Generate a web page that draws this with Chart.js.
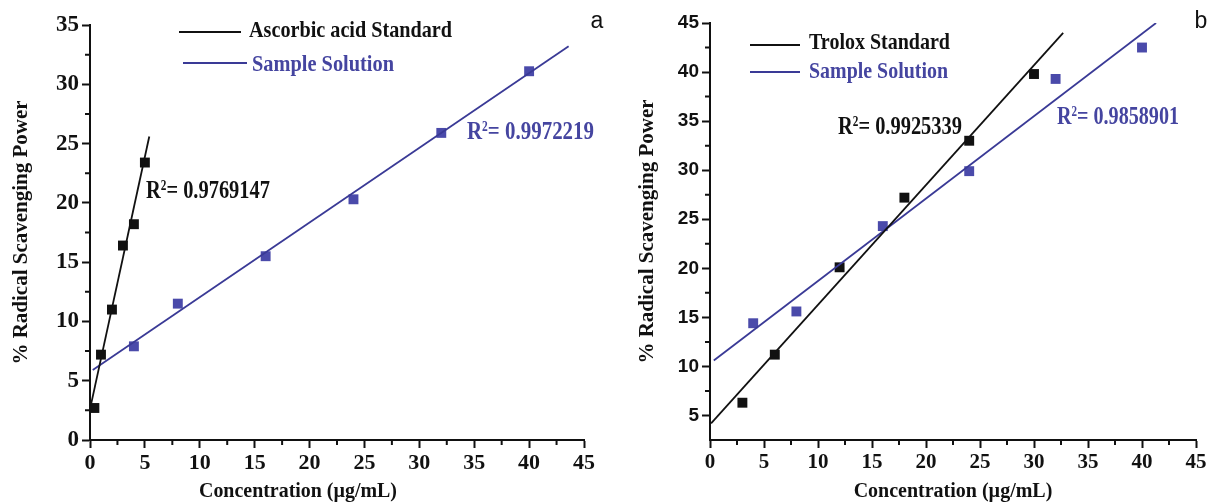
<!DOCTYPE html>
<html>
<head>
<meta charset="utf-8">
<script src="https://cdn.jsdelivr.net/npm/chart.js@4.4.1/dist/chart.umd.min.js"></script>
<style>
  html, body { margin: 0; padding: 0; background: #fff; }
  #wrap { position: relative; width: 1213px; height: 504px; overflow: hidden; }
  #boxA { position: absolute; left: 0; top: 0; width: 620px; height: 504px; }
  #boxB { position: absolute; left: 620px; top: 0; width: 593px; height: 504px; }
</style>
</head>
<body>
<div id="wrap">
  <div id="boxA"><canvas id="chartA" width="620" height="504"></canvas></div>
  <div id="boxB"><canvas id="chartB" width="593" height="504"></canvas></div>
</div>
<script>
/********************************
 *  data
 * ******************************/
// panel a - ascorbic acid
var concA_std = [0.4, 1, 2, 3, 4, 5];
var rspA_std  = [2.7, 7.2, 11.0, 16.4, 18.2, 23.4];
var concA_smp = [4, 8, 16, 24, 32, 40];
var rspA_smp  = [7.9, 11.5, 15.5, 20.3, 25.9, 31.1];
var fitA_std  = [[0.07, 2.9], [5.4, 25.6]];     // drawn fit line ends
var fitA_smp  = [[0.25, 5.9], [43.6, 33.2]];
var r2A_std = '0.9769147';
var r2A_smp = '0.9972219';

// panel b - trolox
var concB_std = [3, 6, 12, 18, 24, 30];
var rspB_std  = [6.3, 11.2, 20.1, 27.2, 33.0, 39.8];
var concB_smp = [4, 8, 16, 24, 32, 40];
var rspB_smp  = [14.4, 15.6, 24.3, 29.9, 39.3, 42.5];
var fitB_std  = [[0.1, 4.2], [32.7, 44.0]];
var fitB_smp  = [[0.35, 10.6], [41.3, 45.0]];
var r2B_std = '0.9925339';
var r2B_smp = '0.9858901';

// ticks
var xTicks  = [0, 5, 10, 15, 20, 25, 30, 35, 40, 45];
var xMinor  = [2.5, 7.5, 12.5, 17.5, 22.5, 27.5, 32.5, 37.5, 42.5];
var yTicksA = [0, 5, 10, 15, 20, 25, 30, 35];
var yMinorA = [2.5, 7.5, 12.5, 17.5, 22.5, 27.5, 32.5];
var yTicksB = [5, 10, 15, 20, 25, 30, 35, 40, 45];
var yMinorB = [7.5, 12.5, 17.5, 22.5, 27.5, 32.5, 37.5, 42.5];

var xTitle = 'Concentration (µg/mL)';
var yTitle = '% Radical Scavenging Power';

/********************************
 *  styles
 * ******************************/
var INK = '#111111';
var BLUE_LINE = '#3a3a96';
var BLUE_PT = '#4a4aaa';
var BLUE_TXT = '#4545a0';
var SERIF = '"Liberation Serif", "Times New Roman", serif';
var SANS = '"Liberation Sans", Arial, sans-serif';

Chart.defaults.font.family = SERIF;

function pts(xs, ys) {
    return xs.map(function (x, i) { return { x: x, y: ys[i] }; });
}
function pointSet(label, xs, ys, color) {
    return {
        label: label, data: pts(xs, ys), showLine: false,
        pointStyle: 'rect', pointRadius: 7, pointHoverRadius: 7,
        backgroundColor: color, borderColor: color, borderWidth: 0
    };
}
function fitSet(label, ends, color) {
    return {
        label: label,
        data: ends.map(function (p) { return { x: p[0], y: p[1] }; }),
        showLine: true, pointRadius: 0, pointHoverRadius: 0,
        borderColor: color, borderWidth: 1.8, fill: false
    };
}

// text helper: squeezes the text to the width seen in the figure
function drawNote(ctx, t) {
    var fam = t.family || SERIF;
    var wt = t.weight || 'bold';
    var parts = t.r2
        ? [['R', 1, 0], ['2', 0.55, 0.22], ['= ' + t.text, 1, 0]]
        : [[t.text, 1, 0]];
    var total = 0;
    parts.forEach(function (p) {
        ctx.font = wt + ' ' + (t.size * p[1]) + 'px ' + fam;
        p.push(ctx.measureText(p[0]).width);
        total += p[3];
    });
    var sx = t.width ? t.width / total : 1;
    var x0 = t.align === 'center' ? t.x - total * sx / 2 : t.x;
    ctx.save();
    ctx.translate(x0, t.y);
    ctx.scale(sx, 1);
    ctx.fillStyle = t.color;
    ctx.textAlign = 'left';
    ctx.textBaseline = 'middle';
    var cx = 0;
    parts.forEach(function (p) {
        ctx.font = wt + ' ' + (t.size * p[1]) + 'px ' + fam;
        ctx.fillText(p[0], cx, -p[2] * t.size);
        cx += p[3];
    });
    ctx.restore();
}

var notesPlugin = {
    id: 'figNotes',
    afterDraw: function (chart, args, opts) {
        var ctx = chart.ctx, area = chart.chartArea;
        var xs = chart.scales.x, ys = chart.scales.y;
        ctx.save();
        // minor ticks
        ctx.strokeStyle = INK; ctx.lineWidth = 2;
        ctx.beginPath();
        (opts.minorX || []).forEach(function (v) {
            var px = xs.getPixelForValue(v);
            ctx.moveTo(px, area.bottom); ctx.lineTo(px, area.bottom + 5);
        });
        (opts.minorY || []).forEach(function (v) {
            var py = ys.getPixelForValue(v);
            ctx.moveTo(area.left, py); ctx.lineTo(area.left - 5, py);
        });
        ctx.stroke();
        // legend keys
        (opts.keys || []).forEach(function (k) {
            ctx.strokeStyle = k.color; ctx.lineWidth = 2;
            ctx.beginPath(); ctx.moveTo(k.x0, k.y); ctx.lineTo(k.x1, k.y); ctx.stroke();
        });
        (opts.texts || []).forEach(function (t) { drawNote(ctx, t); });
        ctx.restore();
    }
};

function makeScales(c) {
    return {
        x: {
            type: 'linear', min: 0, max: 45,
            afterBuildTicks: function (s) { s.ticks = xTicks.map(function (v) { return { value: v }; }); },
            afterFit: function (s) { s.height = 64; },
            grid: { drawOnChartArea: false, drawTicks: true, tickLength: 8, tickWidth: 2, tickColor: INK },
            border: { display: true, color: INK, width: 2 },
            ticks: { color: INK, font: c.xTickFont, padding: 2, autoSkip: false, maxRotation: 0 },
            title: {
                display: c.xTitleOn, text: xTitle, color: INK,
                font: { family: SERIF, size: 20, weight: 'bold' }, padding: { top: 0, bottom: 0 }
            }
        },
        y: {
            type: 'linear', min: c.yMin, max: c.yMax,
            afterBuildTicks: function (s) { s.ticks = c.yTicks.map(function (v) { return { value: v }; }); },
            afterFit: function (s) { s.width = 90; },
            grid: { drawOnChartArea: false, drawTicks: true, tickLength: 8, tickWidth: 2, tickColor: INK },
            border: { display: true, color: INK, width: 2 },
            ticks: { color: INK, font: c.yTickFont, padding: 3 },
            title: {
                display: true, text: yTitle, color: INK,
                font: { family: SERIF, size: 21, weight: 'bold' }, padding: { top: c.yTitlePad, bottom: 0 }
            }
        }
    };
}

/********************************
 *  panel a
 * ******************************/
new Chart(document.getElementById('chartA').getContext('2d'), {
    type: 'scatter',
    data: {
        datasets: [
            fitSet('Ascorbic acid Standard fit', fitA_std, INK),
            fitSet('Sample Solution fit', fitA_smp, BLUE_LINE),
            pointSet('Ascorbic acid Standard', concA_std, rspA_std, INK),
            pointSet('Sample Solution', concA_smp, rspA_smp, BLUE_PT)
        ]
    },
    plugins: [notesPlugin],
    options: {
        responsive: false, animation: false,
        layout: { padding: { left: 0, top: 25, right: 36, bottom: 0 } },
        plugins: {
            legend: { display: false },
            tooltip: { enabled: false },
            figNotes: {
                minorX: xMinor, minorY: yMinorA,
                keys: [
                    { x0: 179, x1: 241, y: 32, color: INK },
                    { x0: 183, x1: 247, y: 63, color: BLUE_LINE }
                ],
                texts: [
                    { text: 'Ascorbic acid Standard', x: 249, y: 31, width: 203, size: 24, color: INK },
                    { text: 'Sample Solution', x: 252, y: 65, width: 142, size: 24, color: BLUE_TXT },
                    { text: r2A_std, r2: true, x: 146, y: 192, width: 124, size: 25, color: INK },
                    { text: r2A_smp, r2: true, x: 467, y: 133, width: 127, size: 25, color: BLUE_TXT },
                    { text: xTitle, align: 'center', x: 298, y: 492, width: 198, size: 21, color: INK },
                    { text: 'a', align: 'center', x: 597, y: 22, size: 23, weight: 'normal', family: SANS, color: INK }
                ]
            }
        },
        scales: makeScales({
            yMin: 0, yMax: 35, yTicks: yTicksA, yTitlePad: 9, xTitleOn: false,
            xTickFont: { family: SERIF, size: 22, weight: 'bold' },
            yTickFont: { family: SERIF, size: 23, weight: 'bold' }
        })
    }
});

/********************************
 *  panel b
 * ******************************/
new Chart(document.getElementById('chartB').getContext('2d'), {
    type: 'scatter',
    data: {
        datasets: [
            fitSet('Trolox Standard fit', fitB_std, INK),
            fitSet('Sample Solution fit', fitB_smp, BLUE_LINE),
            pointSet('Trolox Standard', concB_std, rspB_std, INK),
            pointSet('Sample Solution', concB_smp, rspB_smp, BLUE_PT)
        ]
    },
    plugins: [notesPlugin],
    options: {
        responsive: false, animation: false,
        layout: { padding: { left: 0, top: 23, right: 17, bottom: 0 } },
        plugins: {
            legend: { display: false },
            tooltip: { enabled: false },
            figNotes: {
                minorX: xMinor, minorY: yMinorB,
                keys: [
                    { x0: 130, x1: 180, y: 45, color: INK },
                    { x0: 130, x1: 180, y: 72, color: BLUE_LINE }
                ],
                texts: [
                    { text: 'Trolox Standard', x: 189, y: 43, width: 141, size: 24, color: INK },
                    { text: 'Sample Solution', x: 189, y: 72, width: 139, size: 24, color: BLUE_TXT },
                    { text: r2B_std, r2: true, x: 218, y: 128, width: 124, size: 25, color: INK },
                    { text: r2B_smp, r2: true, x: 437, y: 118, width: 122, size: 25, color: BLUE_TXT },
                    { text: 'b', align: 'center', x: 581, y: 22, size: 23, weight: 'normal', family: SANS, color: INK }
                ]
            }
        },
        scales: makeScales({
            yMin: 2.5, yMax: 45, yTicks: yTicksB, yTitlePad: 15, xTitleOn: true,
            xTickFont: { family: SERIF, size: 21, weight: 'bold' },
            yTickFont: { family: SANS, size: 19, weight: 'bold' }
        })
    }
});
</script>
</body>
</html>
